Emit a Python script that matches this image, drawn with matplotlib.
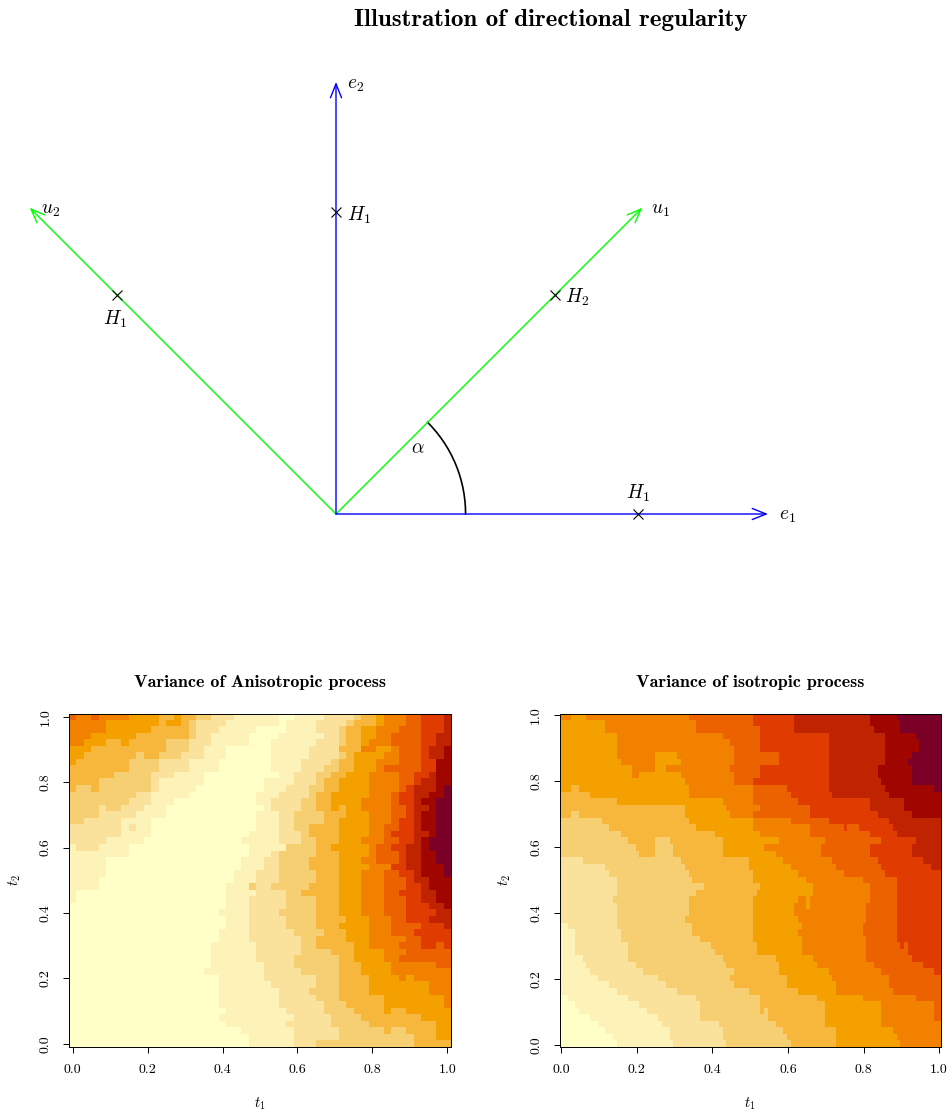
import numpy as np
import matplotlib
matplotlib.use("Agg")
import matplotlib.pyplot as plt
from matplotlib.colors import ListedColormap

plt.rcParams['font.family'] = ['cmr10', 'DejaVu Sans']
plt.rcParams['mathtext.fontset'] = 'cm'
plt.rcParams['axes.formatter.use_mathtext'] = True

W, H = 948, 1114

# arrows of the top drawing (unit = length of e1)
blue_ends = [(1.0, 0.0), (0.0, 1.0)]
green_ends = [(0.709, 0.709), (-0.709, 0.709)]
cross_x = [0.70, 0.0, 0.507, -0.507]
cross_y = [0.0, 0.70, 0.507, 0.507]
alpha_deg = np.arange(0, 46, 3)
arc_radius = 0.30

level_colors = ['#FFFFC8', '#FDF2B8', '#FAE29C', '#F6CF72', '#F6B73C', '#F4A100',
                '#F38100', '#EC6200', '#E03B00', '#BF2300', '#A10500', '#7A0028']

tick_vals = [0.0, 0.2, 0.4, 0.6, 0.8, 1.0]

# each row, from the top: level:last_column runs
aniso_rows = [
    "7:1 6:3 7:4 6:8 5:12 4:14 5:15 4:17 3:19 2:22 1:28 0:30 1:34 2:38 3:39 4:41 5:42 6:45 7:47 8:50 9:51",
    "6:5 5:12 4:13 5:15 4:16 3:17 2:21 1:28 0:29 1:33 2:37 3:38 4:41 5:42 6:45 7:47 8:50 9:51",
    "6:5 5:11 4:16 3:17 2:20 1:25 0:29 1:33 2:36 3:37 4:39 5:41 6:44 7:47 8:50 9:51",
    "6:3 5:9 4:16 3:17 2:19 1:24 0:28 1:34 2:36 3:37 4:39 5:41 6:43 7:47 8:49 9:51",
    "6:2 5:5 4:7 5:8 4:13 3:16 2:19 1:24 0:27 1:33 2:36 3:37 4:39 5:40 6:43 7:47 8:49 9:51",
    "5:3 4:13 3:16 2:18 1:21 0:27 1:32 2:36 4:39 6:41 5:43 6:44 7:47 8:48 9:50 10:51",
    "5:2 4:9 3:10 4:12 3:15 2:18 1:21 0:27 1:32 2:36 3:37 4:38 5:42 6:44 7:47 8:48 9:50 10:51",
    "5:1 4:8 3:12 2:16 1:20 0:27 1:31 2:35 3:36 4:38 5:41 6:44 7:47 8:49 10:51",
    "4:8 3:12 2:16 1:20 0:27 1:31 2:34 3:36 4:38 5:41 6:42 7:47 8:49 10:51",
    "4:6 3:11 2:14 1:18 0:28 1:30 2:33 3:35 4:37 5:40 6:44 7:46 8:48 9:49 10:51",
    "4:4 3:11 2:12 1:18 0:26 1:30 2:33 3:34 4:36 5:40 6:44 7:46 8:47 9:49 10:51",
    "4:1 3:3 4:4 3:11 2:12 1:17 0:26 1:29 2:32 3:34 4:36 5:40 6:44 7:45 8:46 9:49 10:50 11:51",
    "3:9 2:11 1:16 0:25 1:28 2:32 3:33 4:35 5:40 6:43 7:44 8:46 9:48 10:50 11:51",
    "3:8 2:11 1:14 0:25 1:27 2:31 3:33 4:35 5:39 6:43 7:44 8:46 9:47 10:49 11:51",
    "3:4 2:5 3:7 2:10 1:13 0:26 1:27 2:31 3:33 4:35 5:36 4:37 5:39 6:43 7:45 8:46 9:48 10:49 11:51",
    "3:4 2:9 1:13 0:25 1:28 2:30 3:34 4:37 5:40 6:43 7:45 8:46 9:47 10:49 11:51",
    "3:2 2:7 1:11 0:25 1:28 2:30 3:34 4:36 5:40 6:43 7:44 8:46 9:47 10:49 11:51",
    "2:7 1:8 2:9 1:11 0:25 1:28 2:30 3:32 4:36 5:40 6:42 7:44 8:46 9:47 10:49 11:51",
    "2:7 1:11 0:24 1:28 2:31 3:32 4:36 5:40 6:42 7:43 8:46 9:48 10:49 11:51",
    "2:5 1:10 0:23 1:28 2:31 3:33 4:36 5:39 6:42 7:44 8:46 9:47 10:48 11:51",
    "1:1 2:4 1:8 0:24 1:29 3:33 4:35 5:40 6:41 7:43 8:45 9:47 10:48 11:51",
    "1:8 0:24 1:27 2:28 3:33 4:36 5:40 6:41 7:44 8:45 9:47 10:49 11:51",
    "1:5 0:23 1:26 2:28 3:32 4:36 5:39 6:41 7:44 8:45 9:47 10:49 11:51",
    "1:5 0:23 1:26 2:28 3:32 4:36 5:40 6:43 8:45 9:47 10:50 11:51",
    "1:5 0:22 1:25 2:28 3:33 4:36 5:39 6:42 7:44 8:46 9:47 10:50 11:51",
    "1:4 0:22 1:25 2:28 3:33 4:36 5:39 6:42 7:45 8:46 9:48 10:51",
    "1:4 0:21 1:24 3:25 2:27 3:32 4:36 5:39 6:42 7:45 8:47 9:48 10:51",
    "1:1 0:21 1:25 2:29 3:31 4:36 5:39 6:42 7:44 8:47 9:49 10:51",
    "1:1 0:21 1:24 2:29 3:33 4:36 5:39 6:42 7:45 8:47 9:49 10:51",
    "0:21 1:24 2:29 3:33 4:36 5:39 6:42 7:45 8:48 9:50 10:51",
    "0:20 1:24 2:28 3:33 4:36 5:39 6:42 7:45 8:49 9:51",
    "0:21 1:24 2:29 3:33 4:37 5:40 6:43 7:45 8:48 9:51",
    "0:21 1:24 2:29 3:33 4:36 5:40 6:43 7:47 8:50 9:51",
    "0:20 1:24 2:30 3:34 4:37 5:40 6:43 7:46 8:51",
    "0:20 1:24 2:31 3:33 4:37 5:40 6:45 7:47 8:51",
    "0:19 1:25 2:31 3:33 4:38 5:40 6:44 7:47 8:49 7:50 8:51",
    "0:19 1:25 2:31 3:35 4:38 5:42 6:45 7:51",
    "0:19 1:25 2:30 3:36 4:38 5:42 6:44 7:51",
    "0:19 1:26 2:30 3:36 4:39 5:43 6:49 7:51",
    "0:18 1:26 2:31 3:36 4:39 5:43 6:51",
    "0:20 1:26 2:33 3:36 4:40 5:44 6:45 5:46 6:51",
    "0:20 1:27 2:33 3:36 4:40 5:48 6:51",
    "0:20 1:28 2:32 3:36 4:40 5:48 6:51",
    "0:20 1:28 2:33 3:36 4:42 5:50 6:51",
    "0:20 1:28 2:34 3:37 4:42 5:50 6:51",
    "0:21 1:29 2:34 3:38 4:42 5:43 4:45 5:51",
    "0:20 1:30 2:35 3:39 4:47 5:51",
    "0:21 1:29 2:35 3:40 4:49 5:51",
    "0:23 1:30 2:36 3:42 4:43 3:45 4:49 5:51",
    "0:24 1:30 2:36 3:46 4:49 5:51",
    "0:24 1:30 2:33 3:46 4:51",
]

iso_rows = [
    "6:3 5:7 6:34 7:51 8:62 9:82 10:89 11:101",
    "5:12 6:36 7:51 8:62 9:82 10:90 11:101",
    "5:12 6:36 7:53 8:62 9:83 10:90 11:101",
    "5:15 6:43 7:53 8:71 9:86 10:94 11:101",
    "5:15 6:45 7:53 8:71 9:86 10:95 11:101",
    "5:15 6:46 7:53 8:71 9:86 10:95 11:101",
    "5:15 6:25 5:31 6:46 7:58 8:71 9:86 10:93 11:101",
    "5:16 6:25 5:32 6:46 7:58 8:71 9:86 10:92 11:101",
    "5:19 6:25 5:28 6:45 7:53 8:71 9:84 10:93 11:101",
    "5:19 6:21 5:32 6:46 7:53 8:71 9:84 10:93 11:101",
    "5:33 6:46 7:51 8:71 9:85 10:93 11:101",
    "5:3 4:5 5:34 6:51 7:60 8:71 9:86 10:99 11:101",
    "4:8 5:34 6:51 7:61 8:72 9:87 10:101",
    "4:15 5:43 6:51 7:63 8:82 9:91 10:101",
    "4:33 5:44 6:53 7:66 8:82 9:91 10:101",
    "4:3 3:5 4:33 5:45 6:51 7:66 8:84 9:93 10:101",
    "3:11 4:34 5:51 6:61 7:71 8:87 9:101",
    "3:13 4:36 5:51 6:66 7:75 8:76 7:79 8:88 9:101",
    "3:16 4:41 5:53 6:66 7:82 8:89 9:101",
    "3:18 4:25 3:29 4:43 5:58 6:70 7:85 8:94 9:101",
    "3:20 4:25 3:30 4:43 5:54 6:69 7:82 8:93 9:101",
    "3:21 4:25 3:30 4:43 5:57 6:69 7:82 8:93 9:101",
    "2:6 3:32 4:50 5:59 6:72 7:84 8:96 9:101",
    "2:12 3:33 4:50 5:61 6:73 7:85 8:98 9:101",
    "2:13 3:34 4:51 5:63 6:75 7:86 8:101",
    "2:15 3:35 4:51 5:65 6:80 7:89 8:101",
    "2:15 3:38 4:53 5:67 6:82 7:89 8:101",
    "2:15 3:36 4:52 5:67 6:82 7:89 8:101",
    "2:14 3:34 4:51 5:63 6:65 5:66 6:82 7:89 8:101",
    "2:15 3:34 4:51 5:62 6:65 5:66 6:81 7:89 8:101",
    "2:15 3:34 4:51 5:62 6:81 7:89 8:101",
    "2:15 3:33 4:51 5:63 6:81 7:89 8:101",
    "1:2 2:15 3:35 4:51 5:64 6:80 7:89 8:101",
    "1:4 2:16 3:35 4:51 5:63 6:80 7:89 8:101",
    "1:4 2:16 3:37 4:51 5:64 6:81 7:89 8:101",
    "1:4 2:18 3:40 4:52 5:64 6:81 7:90 8:91 7:92 8:101",
    "1:4 2:18 3:41 4:52 5:64 6:81 7:92 8:101",
    "1:6 2:18 3:43 4:57 5:67 6:81 7:93 8:101",
    "1:7 2:20 3:44 4:58 5:68 6:83 7:96 8:101",
    "1:8 2:22 3:46 4:58 5:71 6:85 7:99 8:101",
    "1:10 2:26 3:45 4:60 5:72 6:87 7:101",
    "1:13 2:28 3:46 4:60 5:73 6:87 7:101",
    "1:15 2:31 3:50 4:63 5:73 6:88 7:101",
    "0:2 1:18 2:36 3:53 4:68 5:80 6:94 7:101",
    "0:4 1:21 2:37 3:53 4:70 5:85 6:99 7:101",
    "0:5 1:23 2:37 3:53 4:54 3:55 4:70 5:85 6:99 7:101",
    "0:8 1:26 2:37 3:55 4:70 5:85 6:99 7:101",
    "0:10 1:27 2:42 3:57 4:70 5:85 6:101",
    "0:12 1:29 2:43 3:59 4:73 5:88 6:101",
    "0:14 1:29 2:43 3:60 4:73 5:89 6:101",
    "0:15 1:30 2:44 3:61 4:73 5:90 6:101",
]


def rows_to_grid(rows, ncol):
    grid = np.zeros((len(rows), ncol))
    for r, row in enumerate(rows):
        start = 0
        for run in row.split():
            lev, end = run.split(':')
            grid[r, start:int(end)] = int(lev)
            start = int(end)
    return grid


def px_axes(fig, x0, y0, x1, y1):
    return fig.add_axes([x0 / W, 1 - y1 / H, (x1 - x0) / W, (y1 - y0) / H])


def heat_panel(ax, rows, ncol, title, title_x):
    half = 0.5 / (ncol - 1)
    ax.imshow(rows_to_grid(rows, ncol), cmap=ListedColormap(level_colors), vmin=-0.5, vmax=11.5,
              extent=(-half, 1 + half, -half, 1 + half), aspect='auto', interpolation='nearest')
    ax.set_xticks(tick_vals)
    ax.set_yticks(tick_vals)
    ax.set_xticklabels(['%.1f' % v for v in tick_vals])
    ax.set_yticklabels(['%.1f' % v for v in tick_vals], rotation=90, va='center')
    ax.tick_params(length=4.5, width=0.7, labelsize=10, pad=8)
    for s in ax.spines.values():
        s.set_linewidth(0.7)
    ax.set_xlabel('$t_1$', fontsize=10.5, labelpad=14)
    ax.set_ylabel('$t_2$', fontsize=10.5, labelpad=12)
    fig.text(title_x / W, 1 - 682 / H, title, family='cmb10', fontsize=13, ha='center', va='center')


fig = plt.figure(figsize=(W / 100, H / 100), dpi=100)

# top drawing, origin at pixel (336, 514), unit 432 px
ax0 = px_axes(fig, 0, 0, W, 640)
ax0.set_xlim(-336 / 432, (W - 336) / 432)
ax0.set_ylim((514 - 640) / 432, 514 / 432)
ax0.axis('off')

head = '->,head_length=1.0,head_width=0.4'
for ends, col in [(green_ends, '#00FF00'), (blue_ends, '#0000FF')]:
    for e in ends:
        ax0.annotate('', xy=e, xytext=(0, 0),
                     arrowprops=dict(arrowstyle=head, color=col, lw=1.0, mutation_scale=10,
                                     shrinkA=0, shrinkB=0))

ang = np.radians(alpha_deg)
ax0.plot(arc_radius * np.cos(ang), arc_radius * np.sin(ang), color='black', lw=1.2)
ax0.plot(cross_x, cross_y, 'x', color='black', ms=6.5, mew=0.8, zorder=5)

labels = [('$e_1$', 1.025, -0.004, 'left'), ('$e_2$', 0.025, 0.992, 'left'),
          ('$u_1$', 0.73, 0.704, 'left'), ('$u_2$', -0.682, 0.704, 'left'),
          ('$H_1$', 0.025, 0.692, 'left'), ('$H_2$', 0.53, 0.502, 'left'),
          ('$H_1$', -0.512, 0.45, 'center'), ('$H_1$', 0.70, 0.047, 'center'),
          (r'$\alpha$', 0.189, 0.152, 'center')]
for txt, x, y, ha in labels:
    ax0.text(x, y, txt, fontsize=14, ha=ha, va='center')

fig.text(551 / W, 1 - 20 / H, 'Illustration of directional regularity', family='cmb10',
         fontsize=18, ha='center', va='center')

ax1 = px_axes(fig, 69, 713.5, 451, 1047)
heat_panel(ax1, aniso_rows, 51, 'Variance of Anisotropic process', 260)
ax2 = px_axes(fig, 559.5, 713.5, 941, 1047)
heat_panel(ax2, iso_rows, 101, 'Variance of isotropic process', 750)

fig.savefig('out.png', dpi=100)
